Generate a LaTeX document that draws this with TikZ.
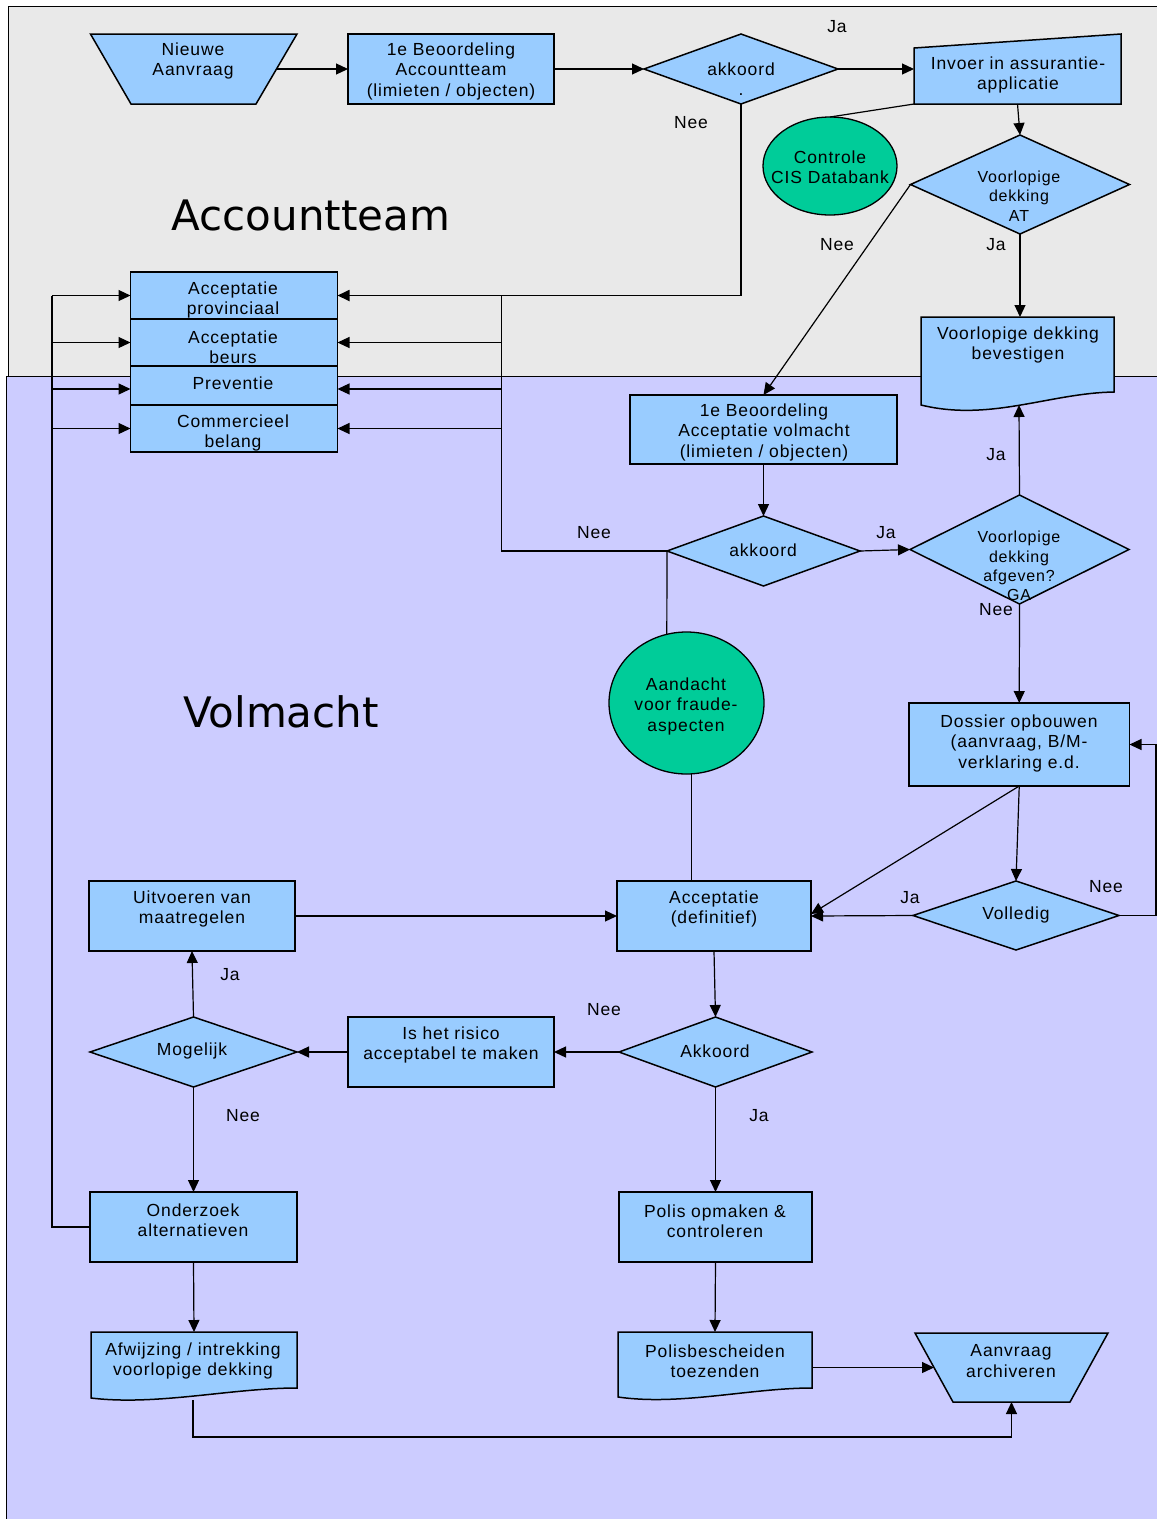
\documentclass[tikz,border=0pt]{standalone}
\usepackage{fontspec}
\setmainfont{Liberation Sans}[LetterSpace=5]
\newfontfamily\lanefont{DejaVu Sans}
\usetikzlibrary{arrows.meta,shapes.geometric}
\definecolor{boxblue}{RGB}{153,204,255}
\definecolor{fgreen}{RGB}{0,204,153}
\definecolor{lanegray}{RGB}{233,233,233}
\definecolor{lavender}{RGB}{204,204,255}
\tikzset{
  shp/.style={draw=black, line width=1.5pt, fill=boxblue, line join=miter},
  bb/.style={draw=none, rectangle, inner sep=0pt, outer sep=0pt},
  rbox/.style={shp, rectangle, inner sep=0pt, outer sep=0pt},
  ebox/.style={draw=black, line width=1.3pt, fill=fgreen, ellipse, inner sep=0pt, outer sep=0pt},
  txt/.style={font=\fontsize{17.5}{20.5}\selectfont, align=center, inner sep=0pt},
  stxt/.style={font=\fontsize{16}{19.3}\selectfont, align=center, inner sep=0pt},
  lbl/.style={font=\fontsize{17.5}{20.5}\selectfont, inner sep=0pt},
  lanet/.style={font=\lanefont\fontsize{42}{50}\selectfont, inner sep=0pt},
  conn/.style={line width=1.2pt, -{Triangle[length=12pt,width=11pt]}},
  tconn/.style={line width=1.8pt, -{Triangle[length=12pt,width=11pt]}},
  cline/.style={line width=1.2pt},
  tline/.style={line width=1.8pt},
}
\begin{document}
\begin{tikzpicture}[x=1pt,y=-1pt]
\useasboundingbox (0,0) rectangle (1157,1519);
\clip (0,0) rectangle (1157,1519);
\fill[white] (0,0) rectangle (1157,1519);
% lanes
\draw[fill=lanegray, line width=1pt] (8,6) rectangle (1175,376);
\draw[fill=lavender, line width=1pt] (6.5,376) rectangle (1175,1535);
\node[lanet] (laneA) at (311,215) {Accountteam};
\node[lanet] (laneV) at (281,712) {Volmacht};

% ---------- shapes ----------
% Nieuwe Aanvraag (trapezoid)
\node[bb, minimum width=206.5pt, minimum height=70pt] (nieuwe) at (193.75,69) {};
\path[shp] (nieuwe.north west) -- (nieuwe.north east) -- ([xshift=-41pt]nieuwe.south east) -- ([xshift=40.5pt]nieuwe.south west) -- cycle;
\node[txt] (t-nieuwe) at (193,61) {Nieuwe\\Aanvraag};

\node[rbox, minimum width=206pt, minimum height=70pt] (beo1) at (451,69) {};
\node[txt] (t-beo1) at (451,71) {1e Beoordeling\\Accountteam\\(limieten / objecten)};

% akkoord 1
\node[bb, minimum width=194pt, minimum height=70pt] (akk1) at (741,69) {};
\path[shp] (akk1.north) -- (akk1.east) -- (akk1.south) -- (akk1.west) -- cycle;
\node[txt] (t-akk1) at (741,79) {akkoord\\.};

% Invoer (manual input)
\node[bb, minimum width=207pt, minimum height=70pt] (invoer) at (1017.5,69) {};
\path[shp] (invoer.south west) -- ([yshift=-14pt]invoer.north west) -- (invoer.north east) -- (invoer.south east) -- cycle;
\node[txt] (t-invoer) at (1018,75) {Invoer in assurantie-\\applicatie};

% Controle CIS Databank
\node[ebox, minimum width=134pt, minimum height=98pt] (cis) at (830,166) {};
\node[txt] (t-cis) at (830,167) {Controle\\CIS Databank};

% Voorlopige dekking AT
\node[bb, minimum width=219pt, minimum height=99pt] (vdat) at (1020,184.5) {};
\path[shp] (vdat.north) -- (vdat.east) -- (vdat.south) -- (vdat.west) -- cycle;
\node[stxt] (t-vdat) at (1019,196) {Voorlopige\\dekking\\AT};

% Voorlopige dekking bevestigen (document)
\node[bb, minimum width=193pt, minimum height=75pt] (bevest) at (1017.5,354.5) {};
\path[shp] (bevest.north west) -- (bevest.north east) -- (bevest.south east) .. controls (1050,393) and (990,422) .. (921,405) -- cycle;
\node[txt] (t-bevest) at (1018,345) {Voorlopige dekking\\bevestigen};
\coordinate (bevB) at (1019,405);

% stacked boxes
\node[rbox, minimum width=207pt, minimum height=47pt] (stack1) at (234,295.5) {};
\node[rbox, minimum width=207pt, minimum height=47pt] (stack2) at (234,342.5) {};
\node[rbox, minimum width=207pt, minimum height=39pt] (stack3) at (234,385.5) {};
\node[rbox, minimum width=207pt, minimum height=47pt] (stack4) at (234,428.5) {};
\node[txt] (t-stack1) at (233,300) {Acceptatie\\provinciaal};
\node[txt] (t-stack2) at (233,347) {Acceptatie\\beurs};
\node[txt] (t-stack3) at (233,383) {Preventie};
\node[txt] (t-stack4) at (233,433) {Commercieel\\belang};

% 1e Beoordeling Acceptatie volmacht
\node[rbox, minimum width=267pt, minimum height=69pt] (beo2) at (763.5,429.5) {};
\node[txt] (t-beo2) at (764,432) {1e Beoordeling\\Acceptatie volmacht\\(limieten / objecten)};

% akkoord 2
\node[bb, minimum width=193pt, minimum height=70pt] (akk2) at (763.5,551) {};
\path[shp] (akk2.north) -- (akk2.east) -- (akk2.south) -- (akk2.west) -- cycle;
\node[txt] (t-akk2) at (763,550) {akkoord};

% Voorlopige dekking afgeven? GA
\node[bb, minimum width=219pt, minimum height=109pt] (vga) at (1019.5,549.5) {};
\path[shp] (vga.north) -- (vga.east) -- (vga.south) -- (vga.west) -- cycle;
\node[stxt] (t-vga) at (1019,566) {Voorlopige\\dekking\\afgeven?\\GA};

% Aandacht voor fraude-aspecten
\node[ebox, minimum width=155pt, minimum height=142pt] (fraud) at (686.5,703) {};
\node[txt] (t-fraud) at (686,706) {Aandacht\\voor fraude-\\aspecten};

% Dossier opbouwen
\node[rbox, minimum width=220.5pt, minimum height=83pt] (dossier) at (1019.25,744.5) {};
\node[txt] (t-dossier) at (1019,743) {Dossier opbouwen\\(aanvraag, B/M-\\verklaring e.d.};

% Volledig
\node[bb, minimum width=206pt, minimum height=69pt] (voll) at (1016,915.5) {};
\path[shp] (voll.north) -- (voll.east) -- (voll.south) -- (voll.west) -- cycle;
\node[txt] (t-voll) at (1016,915) {Volledig};

% Acceptatie (definitief)
\node[rbox, minimum width=194pt, minimum height=70pt] (accdef) at (714,916) {};
\node[txt] (t-accdef) at (714,909) {Acceptatie\\(definitief)};

% Uitvoeren van maatregelen
\node[rbox, minimum width=206pt, minimum height=70pt] (uitv) at (192,916) {};
\node[txt] (t-uitv) at (192,909) {Uitvoeren van\\maatregelen};

% Mogelijk
\node[bb, minimum width=207pt, minimum height=70pt] (mog) at (193.5,1052) {};
\path[shp] (mog.north) -- (mog.east) -- (mog.south) -- (mog.west) -- cycle;
\node[txt] (t-mog) at (192,1051) {Mogelijk};

% Is het risico acceptabel te maken
\node[rbox, minimum width=206pt, minimum height=70pt] (risico) at (451,1052) {};
\node[txt] (t-risico) at (451,1045) {Is het risico\\acceptabel te maken};

% Akkoord 3
\node[bb, minimum width=193pt, minimum height=70pt] (akk3) at (715.5,1052) {};
\path[shp] (akk3.north) -- (akk3.east) -- (akk3.south) -- (akk3.west) -- cycle;
\node[txt] (t-akk3) at (715,1051) {Akkoord};

% Onderzoek alternatieven
\node[rbox, minimum width=207pt, minimum height=70pt] (onderz) at (193.5,1227) {};
\node[txt] (t-onderz) at (193,1220) {Onderzoek\\alternatieven};

% Polis opmaken & controleren
\node[rbox, minimum width=193pt, minimum height=70pt] (polis) at (715.5,1227) {};
\node[txt] (t-polis) at (715,1221) {Polis opmaken \&\\controleren};

% Afwijzing (document)
\node[bb, minimum width=206pt, minimum height=56pt] (afw) at (194,1360) {};
\path[shp] (afw.north west) -- (afw.north east) -- (afw.south east) .. controls (231,1388) and (157,1406) .. (91,1398) -- cycle;
\node[txt] (t-afw) at (193,1361) {Afwijzing / intrekking\\voorlopige dekking};
\coordinate (afwB) at (193,1400);

% Polisbescheiden toezenden (document)
\node[bb, minimum width=194pt, minimum height=56pt] (polisb) at (715,1360) {};
\path[shp] (polisb.north west) -- (polisb.north east) -- (polisb.south east) .. controls (750,1388) and (680,1406) .. (618,1397) -- cycle;
\node[txt] (t-polisb) at (715,1361) {Polisbescheiden\\toezenden};

% Aanvraag archiveren (trapezoid)
\node[bb, minimum width=193pt, minimum height=69pt] (archive) at (1011.5,1367.5) {};
\path[shp] (archive.north west) -- (archive.north east) -- ([xshift=-38pt]archive.south east) -- ([xshift=38pt]archive.south west) -- cycle;
\node[txt] (t-archive) at (1011,1361) {Aanvraag\\archiveren};

% ---------- connectors ----------
\coordinate (busR) at (501.5,551);
\coordinate (busL) at (52,1227);

\draw[conn] ([xshift=-20.5pt]nieuwe.east) -- (beo1.west);
\draw[conn] (beo1.east) -- (akk1.west);
\draw[conn] (akk1.east) -- (invoer.west);
\draw[tconn] (akk1.south) |- (stack1.east);
\draw[conn] (invoer.south) -- (vdat.north);
\draw[cline] (invoer.south west) -- (cis.north);
\draw[conn] (vdat.west) -- (beo2.north);
\draw[conn] (vdat.south) -- (vdat.south |- bevest.north);
\draw[conn] (beo2.south) -- (akk2.north);
\draw[conn] (akk2.east) -- (vga.west);
\draw[tline] (akk2.west) -- (busR) -- (busR |- stack1.east);
\draw[conn] (busR |- stack2.east) -- (stack2.east);
\draw[conn] ([yshift=-3.5pt]busR |- stack3.east) -- ([yshift=-3.5pt]stack3.east);
\draw[conn] (busR |- stack4.east) -- (stack4.east);
\draw[cline] (akk2.west) -- (fraud.106);
\draw[cline] (fraud.-86) -- (fraud.-86 |- accdef.north);
\draw[conn] (vga.north) -- (bevB);
\draw[conn] (vga.south) -- (dossier.north);
\draw[conn] (dossier.south) -- (voll.north);
\draw[conn] (dossier.south) -- ([yshift=2pt]accdef.east);
\draw[conn] (voll.west) -- (accdef.east);
\draw[conn] (voll.east) -- ++(37,0) |- (dossier.east);
\draw[conn] (uitv.east) -- (accdef.west);
\draw[conn] (accdef.south) -- (akk3.north);
\draw[conn] (akk3.west) -- (risico.east);
\draw[conn] (risico.west) -- (mog.east);
\draw[conn] (mog.north) -- (uitv.south);
\draw[conn] (mog.south) -- (onderz.north);
\draw[tline] (onderz.west) -- (busL) -- (busL |- stack1.west);
\draw[conn] (busL |- stack1.west) -- (stack1.west);
\draw[conn] (busL |- stack2.west) -- (stack2.west);
\draw[conn] ([yshift=-3.5pt]busL |- stack3.west) -- ([yshift=-3.5pt]stack3.west);
\draw[conn] (busL |- stack4.west) -- (stack4.west);
\draw[conn] (akk3.south) -- (polis.north);
\draw[conn] (polis.south) -- (polisb.north);
\draw[conn] (onderz.south) -- (afw.north);
\draw[conn] ([yshift=-7.5pt]polisb.east) -- ([xshift=19pt]archive.west);
\draw[conn] (afwB) -- ++(0,37) -| (archive.south);

% ---------- labels ----------
\node[lbl] (l1) at (837,27) {Ja};
\node[lbl] (l2) at (691,123) {Nee};
\node[lbl] (l3) at (837,245) {Nee};
\node[lbl] (l4) at (996,245) {Ja};
\node[lbl] (l5) at (996,455) {Ja};
\node[lbl] (l6) at (594,533) {Nee};
\node[lbl] (l7) at (886,533) {Ja};
\node[lbl] (l8) at (996,610) {Nee};
\node[lbl] (l9) at (910,898) {Ja};
\node[lbl] (l10) at (1106,887) {Nee};
\node[lbl] (l11) at (230,975) {Ja};
\node[lbl] (l12) at (604,1010) {Nee};
\node[lbl] (l13) at (243,1116) {Nee};
\node[lbl] (l14) at (759,1116) {Ja};
\end{tikzpicture}
\end{document}
